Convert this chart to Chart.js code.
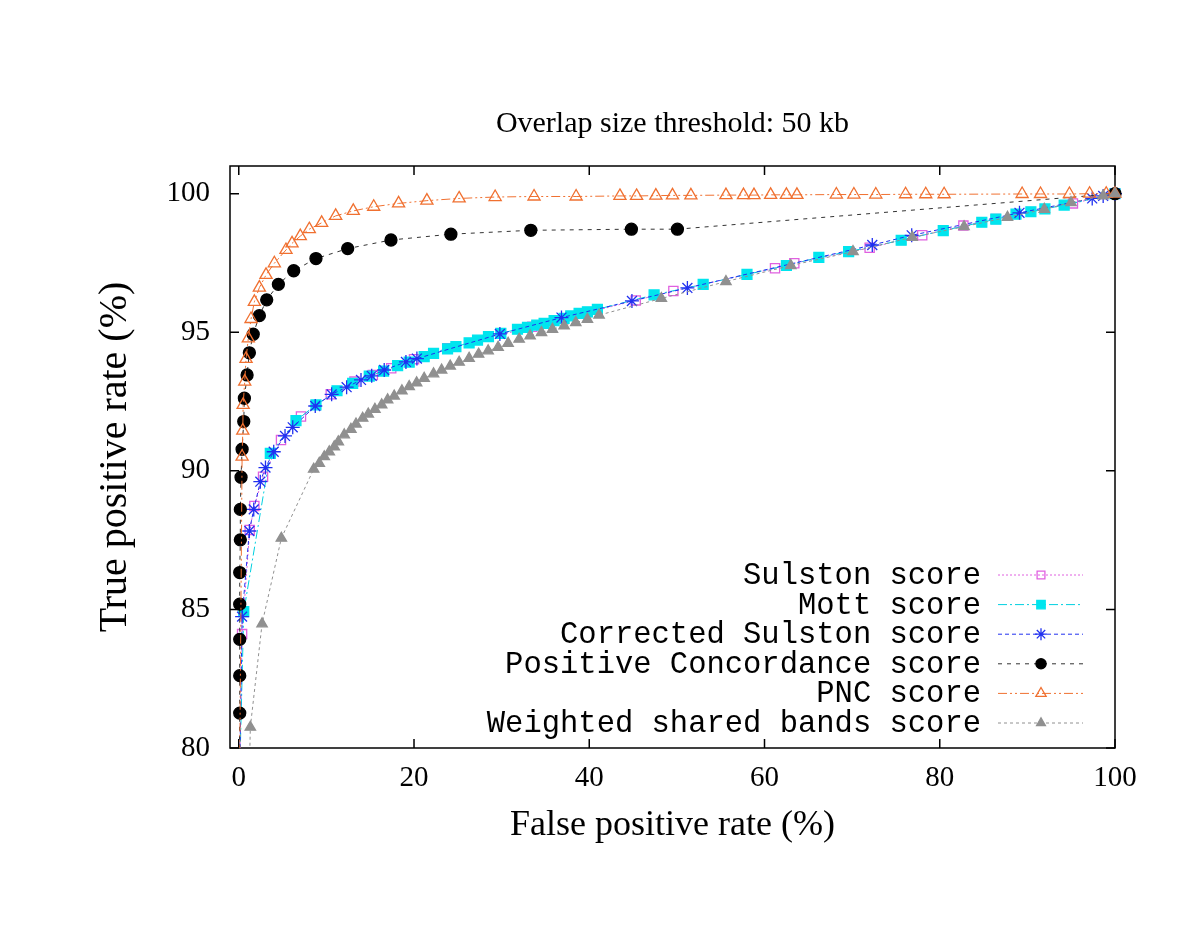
<!DOCTYPE html>
<html>
<head>
<meta charset="utf-8">
<title>Overlap size threshold: 50 kb</title>
<script src="https://cdn.jsdelivr.net/npm/chart.js@4.4.1/dist/chart.umd.min.js"></script>
<style>
  html, body { margin: 0; padding: 0; background: #fff; }
</style>
</head>
<body>
<canvas id="roc" width="1200" height="927"></canvas>
<script>
// tick labels
const xTicks = [0, 20, 40, 60, 80, 100];
const yTicks = [80, 85, 90, 95, 100];

// Sulston score
const sulstonX = [0.1, 0.38, 1.25, 1.78, 2.77, 4.82, 7.1, 10.5, 13.2, 15.3, 17.4, 20.0, 23.8, 33.5, 45.3, 49.6, 61.2, 63.4, 72.0, 78.0, 82.7, 86.4, 95.2, 100];
const sulstonY = [79, 84.11, 87.87, 88.73, 89.79, 91.11, 91.96, 92.76, 93.22, 93.46, 93.7, 94.03, 94.42, 95.2, 96.15, 96.49, 97.31, 97.49, 98.05, 98.5, 98.85, 99.09, 99.65, 100];

// Mott score
const mottX = [0.1, 0.57, 3.6, 6.53, 8.81, 11.21, 13.0, 14.89, 16.53, 18.13, 19.45, 21.16, 22.23, 23.83, 24.78, 26.29, 27.25, 28.5, 29.91, 31.81, 32.95, 34.01, 34.85, 35.99, 37.13, 37.89, 38.84, 39.79, 40.93, 47.4, 53.0, 58.0, 62.5, 66.2, 69.6, 75.6, 80.4, 84.8, 86.4, 88.7, 90.4, 92.0, 94.2, 100];
const mottY = [79, 84.92, 90.63, 91.81, 92.38, 92.89, 93.16, 93.42, 93.6, 93.8, 93.92, 94.12, 94.24, 94.4, 94.48, 94.62, 94.72, 94.84, 94.96, 95.11, 95.18, 95.26, 95.32, 95.42, 95.5, 95.59, 95.68, 95.74, 95.83, 96.35, 96.73, 97.09, 97.41, 97.7, 97.91, 98.32, 98.67, 98.97, 99.08, 99.26, 99.35, 99.45, 99.59, 100];

// Corrected Sulston score
const corrX = [0.1, 0.38, 1.21, 1.71, 2.46, 3.05, 3.99, 5.28, 6.16, 8.73, 10.6, 12.31, 13.95, 15.17, 16.6, 19.08, 20.33, 29.8, 36.83, 44.87, 51.2, 72.3, 76.8, 89.1, 97.4, 98.65, 100];
const corrY = [79, 84.74, 87.83, 88.61, 89.61, 90.12, 90.69, 91.26, 91.57, 92.34, 92.76, 93.02, 93.28, 93.43, 93.64, 93.93, 94.05, 94.94, 95.53, 96.13, 96.6, 98.15, 98.5, 99.31, 99.83, 99.92, 100];

// Positive Concordance score
const pcX = [0.05, 0.11, 0.11, 0.11, 0.11, 0.11, 0.18, 0.18, 0.26, 0.38, 0.57, 0.64, 0.95, 1.21, 1.65, 2.35, 3.19, 4.52, 6.27, 8.81, 12.43, 17.37, 24.21, 33.33, 44.81, 50.06, 100];
const pcY = [79, 81.26, 82.61, 83.92, 85.19, 86.33, 87.51, 88.61, 89.77, 90.78, 91.78, 92.62, 93.46, 94.26, 94.93, 95.6, 96.17, 96.73, 97.22, 97.66, 98.02, 98.33, 98.54, 98.68, 98.72, 98.72, 100];

// PNC score
const pncX = [0.1, 0.38, 0.46, 0.5, 0.68, 0.83, 1.09, 1.4, 1.78, 2.35, 3.11, 4.06, 5.39, 6.08, 7.02, 8.05, 9.46, 11.06, 13.07, 15.4, 18.24, 21.47, 25.15, 29.26, 33.7, 38.5, 43.5, 45.4, 47.6, 49.5, 51.6, 55.6, 57.6, 58.8, 60.7, 62.5, 63.7, 68.2, 70.2, 72.7, 76.1, 78.4, 80.5, 89.4, 91.5, 94.8, 97.1, 99.0, 100];
const pncY = [79, 90.51, 91.45, 92.38, 93.22, 94.04, 94.78, 95.48, 96.1, 96.61, 97.07, 97.49, 97.97, 98.21, 98.47, 98.72, 98.95, 99.2, 99.38, 99.53, 99.65, 99.75, 99.83, 99.88, 99.9, 99.9, 99.92, 99.92, 99.93, 99.94, 99.94, 99.95, 99.95, 99.95, 99.96, 99.96, 99.96, 99.97, 99.97, 99.97, 99.98, 99.98, 99.98, 99.99, 99.99, 99.99, 100, 100, 100];

// Weighted shared bands score
const wsbX = [1.2, 1.32, 2.66, 4.86, 8.55, 9.19, 9.76, 10.33, 10.9, 11.36, 12.04, 12.8, 13.38, 14.14, 14.78, 15.54, 16.31, 16.99, 17.74, 18.62, 19.45, 20.3, 21.16, 22.23, 23.15, 24.13, 25.15, 26.29, 27.37, 28.46, 29.6, 30.74, 32.0, 33.25, 34.55, 35.8, 37.13, 38.46, 39.79, 41.12, 48.23, 55.6, 63.0, 70.1, 76.86, 82.77, 87.73, 91.93, 94.98, 98.65, 100];
const wsbY = [79, 80.75, 84.48, 87.57, 90.06, 90.27, 90.51, 90.69, 90.87, 91.05, 91.3, 91.5, 91.69, 91.9, 92.05, 92.22, 92.38, 92.56, 92.7, 92.89, 93.04, 93.18, 93.34, 93.5, 93.64, 93.78, 93.92, 94.06, 94.21, 94.33, 94.46, 94.6, 94.75, 94.87, 94.99, 95.11, 95.23, 95.35, 95.47, 95.62, 96.22, 96.83, 97.41, 97.91, 98.43, 98.81, 99.15, 99.44, 99.68, 99.92, 100];

const pts = (xs, ys) => xs.map((x, i) => ({ x: x, y: ys[i] }));

const SERIF = "'Liberation Serif', 'Times New Roman', serif";
const MONO = "'Liberation Mono', 'Courier New', monospace";

function series(label, xs, ys, color, lineColor, dash, style, radius, filled, idx) {
  return {
    label: label,
    data: pts(xs, ys),
    borderColor: lineColor,
    borderWidth: 1,
    borderDash: dash,
    pointStyle: style,
    pointRadius: radius,
    pointBorderColor: color,
    pointBackgroundColor: filled ? color : 'rgba(0,0,0,0)',
    pointBorderWidth: 1.3,
    tension: 0,
    fill: false,
    order: 10 - idx,
    clip: { left: 10, top: 10, right: 10, bottom: 0 }
  };
}

// frame and inward tick marks on all four sides
const framePlugin = {
  id: 'frame',
  beforeDatasetsDraw(chart) {
    const { ctx, chartArea: a, scales } = chart;
    ctx.save();
    ctx.strokeStyle = '#000';
    ctx.lineWidth = 1.5;
    ctx.strokeRect(a.left, a.top, a.right - a.left, a.bottom - a.top);
    ctx.beginPath();
    xTicks.forEach(v => {
      const px = scales.x.getPixelForValue(v);
      ctx.moveTo(px, a.bottom); ctx.lineTo(px, a.bottom - 9);
      ctx.moveTo(px, a.top); ctx.lineTo(px, a.top + 9);
    });
    yTicks.forEach(v => {
      const py = scales.y.getPixelForValue(v);
      ctx.moveTo(a.left, py); ctx.lineTo(a.left + 9, py);
      ctx.moveTo(a.right, py); ctx.lineTo(a.right - 9, py);
    });
    ctx.stroke();
    ctx.restore();
  }
};

// gnuplot-style key: right-aligned text, line sample with marker to its right
const keyPlugin = {
  id: 'key',
  afterDraw(chart) {
    const { ctx } = chart;
    const helpers = Chart.helpers;
    ctx.save();
    ctx.font = '30.5px ' + MONO;
    ctx.textAlign = 'right';
    ctx.textBaseline = 'middle';
    chart.data.datasets.forEach((ds, i) => {
      const y = 575 + i * 29.6;
      ctx.fillStyle = '#000';
      ctx.fillText(ds.label, 981, y + 1);
      ctx.strokeStyle = ds.borderColor;
      ctx.lineWidth = 1;
      ctx.setLineDash(ds.borderDash);
      ctx.beginPath();
      ctx.moveTo(998, y); ctx.lineTo(1083, y);
      ctx.stroke();
      ctx.setLineDash([]);
      ctx.strokeStyle = ds.pointBorderColor;
      ctx.fillStyle = ds.pointBackgroundColor;
      ctx.lineWidth = ds.pointBorderWidth;
      if (helpers && helpers.drawPoint) {
        helpers.drawPoint(ctx, { pointStyle: ds.pointStyle, radius: ds.pointRadius * 0.85, rotation: 0, borderWidth: ds.pointBorderWidth }, 1041, y);
      } else {
        ctx.beginPath(); ctx.arc(1041, y, 5, 0, Math.PI * 2); ctx.fill(); ctx.stroke();
      }
    });
    ctx.restore();
  }
};

new Chart(document.getElementById('roc'), {
  type: 'line',
  data: {
    datasets: [
      series('Sulston score', sulstonX, sulstonY, '#e060e0', '#e060e0', [2, 2], 'rect', 6.5, false, 0),
      series('Mott score', mottX, mottY, '#00e5ee', '#00d0e0', [9, 3, 2, 3], 'rect', 7, true, 1),
      series('Corrected Sulston score', corrX, corrY, '#2030f0', '#2030f0', [4, 3], 'star', 7, false, 2),
      series('Positive Concordance score', pcX, pcY, '#000000', '#333333', [4, 5], 'circle', 6, true, 3),
      series('PNC score', pncX, pncY, '#f07030', '#f07030', [9, 3, 2, 3, 2, 3], 'triangle', 7, false, 4),
      series('Weighted shared bands score', wsbX, wsbY, '#909090', '#909090', [3, 3], 'triangle', 6, true, 5)
    ]
  },
  options: {
    responsive: false,
    devicePixelRatio: 1,
    animation: false,
    events: [],
    layout: { padding: { left: 0, right: 85, top: 0, bottom: 0 } },
    plugins: {
      legend: { display: false },
      tooltip: { enabled: false },
      title: {
        display: true,
        text: 'Overlap size threshold: 50 kb',
        fullSize: false,
        color: '#000',
        font: { family: SERIF, size: 30, weight: 'normal', lineHeight: 1.2 },
        padding: { top: 106, bottom: 24 }
      }
    },
    scales: {
      x: {
        type: 'linear',
        min: -1,
        max: 100,
        afterBuildTicks: s => { s.ticks = xTicks.map(v => ({ value: v })); },
        afterFit: s => { s.height = 179; },
        grid: { display: false, drawTicks: false },
        border: { display: false },
        ticks: { color: '#000', padding: 13, font: { family: SERIF, size: 29 } },
        title: {
          display: true,
          text: 'False positive rate (%)',
          color: '#000',
          font: { family: SERIF, size: 36, lineHeight: 1.2 },
          padding: { top: 0, bottom: 80 }
        }
      },
      y: {
        type: 'linear',
        min: 80,
        max: 101,
        afterBuildTicks: s => { s.ticks = yTicks.map(v => ({ value: v })); },
        afterFit: s => { s.width = 230; },
        grid: { display: false, drawTicks: false },
        border: { display: false },
        ticks: { color: '#000', padding: 20, font: { family: SERIF, size: 29 } },
        title: {
          display: true,
          text: 'True positive rate (%)',
          color: '#000',
          font: { family: SERIF, size: 40, lineHeight: 1.2 },
          padding: { top: 91, bottom: 0 }
        }
      }
    }
  },
  plugins: [framePlugin, keyPlugin]
});
</script>
</body>
</html>
